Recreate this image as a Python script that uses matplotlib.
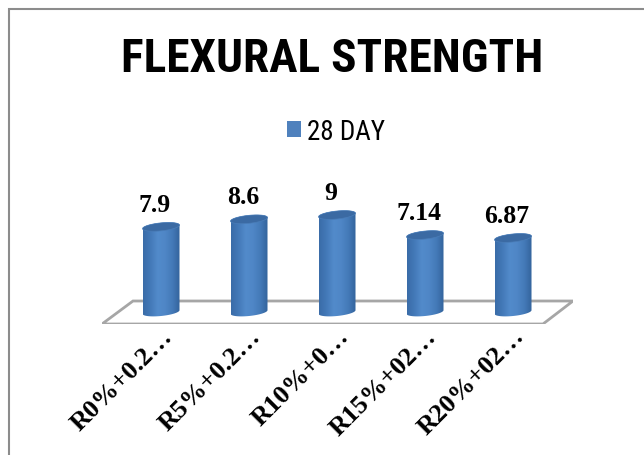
import numpy as np
import matplotlib
matplotlib.use("Agg")
import matplotlib.pyplot as plt
from matplotlib.colors import LinearSegmentedColormap
from matplotlib.patches import Patch, PathPatch, Polygon, Rectangle
from matplotlib.path import Path

categories = ["R0%+0.2…", "R5%+0.2…", "R10%+0…", "R15%+02…", "R20%+02…"]
values = [7.9, 8.6, 9, 7.14, 6.87]
value_labels = ["7.9", "8.6", "9", "7.14", "6.87"]
series_name = "28 DAY"

W, H = 644, 456
NARROW = ["Liberation Sans Narrow", "Roboto Condensed", "Lato", "DejaVu Sans"]
SERIF = ["Liberation Serif", "DejaVu Serif"]

# pixel layout of the plot area
AX_LEFT, AX_RIGHT, AX_TOP, AX_BOTTOM = 102, 573, 180, 325
X0_PX, X_STEP_PX = 161, 88
Y0_PX, Y_PX_PER_UNIT = 313, 97 / 9

fig = plt.figure(figsize=(W / 100, H / 100), dpi=100)
ax = fig.add_axes([AX_LEFT / W, 1 - AX_BOTTOM / H, (AX_RIGHT - AX_LEFT) / W, (AX_BOTTOM - AX_TOP) / H])
ax.patch.set_visible(False)
for s in ax.spines.values():
    s.set_visible(False)

ax.set_xlim((AX_LEFT - X0_PX) / X_STEP_PX, (AX_RIGHT - X0_PX) / X_STEP_PX)
ax.set_ylim((Y0_PX - AX_BOTTOM) / Y_PX_PER_UNIT, (Y0_PX - AX_TOP) / Y_PX_PER_UNIT)
ax.set_yticks([])

# outer chart frame, runs off the right and bottom of the image
fig.add_artist(Rectangle((8.5 / W, -0.02), 1.1, 1 - 10 / H + 0.02, transform=fig.transFigure,
                         fill=False, edgecolor="#8c8c8c", linewidth=1.5))

# floor
floor = Polygon([(0, 0), (441 / 471, 0), (1, 23 / 145), (31 / 471, 23 / 145)], closed=True,
                transform=ax.transAxes, facecolor="white", edgecolor="#a6a6a6", linewidth=2, zorder=1)
ax.add_patch(floor)

cmap = LinearSegmentedColormap.from_list("cyl", ["#3a6ca8", "#4379b8", "#528bcb", "#4f86c6", "#447ab8", "#33639c"])
half_w = 18.5 / X_STEP_PX
rise = 1.8 / Y_PX_PER_UNIT
half_h = 4 / Y_PX_PER_UNIT
grad = np.linspace(0, 1, 128).reshape(1, -1)


def ellipse_points(cx, cy, t):
    return np.column_stack([cx + half_w * np.cos(t), cy + half_h * np.sin(t) + rise * np.cos(t)])


xlim, ylim = ax.get_xlim(), ax.get_ylim()
for i, v in enumerate(values):
    low = ellipse_points(i, 0, np.linspace(np.pi, 2 * np.pi, 40))
    up = ellipse_points(i, v, np.linspace(0, np.pi, 40))
    verts = np.vstack([low, up, low[:1]])
    codes = [Path.MOVETO] + [Path.LINETO] * (len(verts) - 2) + [Path.CLOSEPOLY]
    body = PathPatch(Path(verts, codes), transform=ax.transData, facecolor="none", edgecolor="none")
    ax.add_patch(body)
    im = ax.imshow(grad, cmap=cmap, extent=(i - half_w, i + half_w, -1, v + 1), aspect="auto", zorder=2)
    im.set_clip_path(body)
    top = Polygon(ellipse_points(i, v, np.linspace(0, 2 * np.pi, 60)), closed=True,
                  facecolor="#3b6aa3", edgecolor="#4a7db8", linewidth=0.5, zorder=3)
    ax.add_patch(top)
    ax.text(i - 6 / X_STEP_PX, v + 11 / Y_PX_PER_UNIT, value_labels[i], ha="center", va="bottom",
            family=SERIF, fontweight="bold", fontsize=18.5, color="black", zorder=4, clip_on=False)

ax.set_xlim(xlim)
ax.set_ylim(ylim)

ax.set_xticks(range(len(categories)))
ax.set_xticklabels(categories, rotation=45, ha="right", rotation_mode="anchor",
                   family=SERIF, fontweight="bold", fontsize=19)
ax.tick_params(axis="x", length=0, pad=0)

fig.text(332 / W, 1 - 59 / H, "FLEXURAL STRENGTH", ha="center", va="center",
         family=NARROW, fontweight="bold", fontsize=34)

fig.legend(handles=[Patch(facecolor="#4f81bd", edgecolor="none", label=series_name)],
           loc="center", bbox_to_anchor=(336 / W, 1 - 132 / H), frameon=False,
           prop={"family": NARROW, "size": 19.5}, handlelength=0.55, handleheight=0.55,
           handletextpad=0.22)

fig.savefig("out.png", dpi=100)
